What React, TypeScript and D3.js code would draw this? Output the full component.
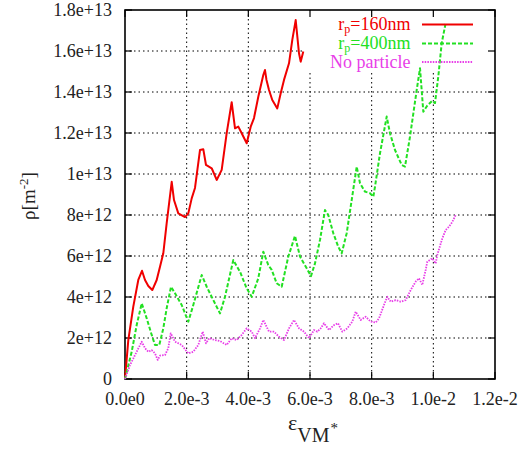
import { useRef, useEffect } from "react";
import * as d3 from "d3";

// strain in units of 1e-3, dislocation density in units of 1e12 m^-2
const r160: [number, number][] = [
  [0, 0], [0.107, 1.9], [0.269, 3.53], [0.431, 4.83], [0.551, 5.28], [0.649, 4.83],
  [0.756, 4.54], [0.885, 4.34], [1.028, 4.83], [1.135, 5.48], [1.242, 6.13], [1.352, 7.6],
  [1.515, 9.62], [1.589, 8.73], [1.729, 8.08], [1.946, 7.9], [2.053, 8.08], [2.163, 8.81],
  [2.27, 9.32], [2.432, 11.17], [2.539, 11.21], [2.627, 10.44], [2.812, 10.28], [2.974, 9.71],
  [3.136, 10.2], [3.298, 11.99], [3.46, 13.5], [3.568, 12.23], [3.675, 12.31], [3.785, 11.99],
  [3.947, 11.5], [4.077, 12.31], [4.184, 12.73], [4.323, 13.77], [4.485, 14.83], [4.54, 15.07],
  [4.589, 14.59], [4.67, 14.1], [4.777, 13.61], [4.939, 13.2], [5.05, 13.94], [5.157, 14.59],
  [5.319, 15.4], [5.426, 16.54], [5.536, 17.51], [5.643, 15.89], [5.698, 15.48], [5.783, 15.97],
];

const r400: [number, number][] = [
  [0, 0], [0.217, 1.33], [0.379, 2.63], [0.542, 3.69], [0.704, 2.96], [0.866, 2.15],
  [0.973, 1.66], [1.112, 1.66], [1.242, 2.47], [1.352, 3.45], [1.492, 4.5], [1.622, 4.18],
  [1.839, 3.61], [2.053, 2.8], [2.215, 3.61], [2.488, 5.07], [2.65, 4.5], [2.864, 3.85],
  [3.081, 3.2], [3.243, 4.01], [3.512, 5.8], [3.73, 5.23], [3.947, 4.42], [4.109, 4.01],
  [4.323, 4.91], [4.485, 6.21], [4.647, 5.56], [4.758, 5.32], [4.92, 4.67], [5.082, 4.5],
  [5.296, 5.97], [5.513, 6.98], [5.676, 5.97], [5.893, 5.4], [6.032, 5.02], [6.162, 5.64],
  [6.324, 6.78], [6.486, 8.24], [6.593, 8.0], [6.756, 7.11], [6.918, 6.45], [7.028, 6.13],
  [7.19, 7.11], [7.352, 8.73], [7.515, 10.36], [7.622, 9.55], [7.784, 9.14], [7.946, 9.06],
  [8.053, 8.89], [8.108, 9.38], [8.27, 11.01], [8.487, 12.8], [8.594, 11.99], [8.757, 11.17],
  [8.974, 10.44], [9.081, 10.36], [9.243, 11.82], [9.461, 14.1], [9.568, 15.16], [9.675, 13.04],
  [9.795, 13.32], [9.957, 13.56], [10.054, 13.46], [10.161, 14.75], [10.271, 16.38], [10.394, 17.32],
];

const noParticle: [number, number][] = [
  [0, 0], [0.162, 0.68], [0.379, 1.33], [0.542, 1.82], [0.649, 1.5], [0.756, 1.33],
  [0.866, 1.41], [0.973, 1.25], [1.061, 0.93], [1.135, 1.14], [1.297, 1.17], [1.404, 1.5],
  [1.482, 2.23], [1.622, 1.82], [1.839, 1.66], [2.053, 1.25], [2.215, 1.33], [2.377, 1.66],
  [2.52, 2.31], [2.627, 1.74], [2.734, 1.99], [2.919, 1.9], [3.081, 1.85], [3.298, 1.66],
  [3.46, 1.99], [3.623, 1.9], [3.785, 2.15], [3.947, 2.47], [4.109, 2.31], [4.216, 1.99],
  [4.378, 2.47], [4.485, 2.88], [4.67, 2.31], [4.832, 2.31], [4.995, 2.06], [5.157, 1.9],
  [5.319, 2.47], [5.481, 2.88], [5.643, 2.47], [5.805, 2.31], [5.968, 1.99], [6.13, 2.39],
  [6.237, 2.31], [6.347, 2.47], [6.454, 2.72], [6.616, 2.39], [6.778, 2.63], [6.908, 2.72],
  [7.048, 2.31], [7.21, 2.47], [7.372, 2.8], [7.482, 3.28], [7.644, 2.88], [7.806, 3.04],
  [7.968, 2.8], [8.131, 2.75], [8.238, 2.96], [8.4, 3.61], [8.507, 4.01], [8.617, 3.77],
  [8.779, 3.85], [8.941, 3.77], [9.104, 3.85], [9.266, 4.34], [9.428, 4.75], [9.535, 4.91],
  [9.642, 4.59], [9.752, 5.32], [9.804, 5.72], [9.966, 5.89], [10.077, 5.64], [10.128, 6.05],
  [10.291, 6.86], [10.401, 7.27], [10.508, 7.43], [10.615, 7.66], [10.725, 8.0],
];

const xTicks = [0, 0.002, 0.004, 0.006, 0.008, 0.01, 0.012];
const xTickLabels = ["0.0e0", "2.0e-3", "4.0e-3", "6.0e-3", "8.0e-3", "1.0e-2", "1.2e-2"];
const yTicks = [0, 2e12, 4e12, 6e12, 8e12, 1e13, 1.2e13, 1.4e13, 1.6e13, 1.8e13];
const yTickLabels = ["0", "2e+12", "4e+12", "6e+12", "8e+12", "1e+13", "1.2e+13", "1.4e+13", "1.6e+13", "1.8e+13"];

const seriesNames = ["160nm", "400nm", "No particle"];
const seriesColors = ["#f00000", "#22e022", "#e83ee8"];

const FONT = "'Liberation Serif', 'DejaVu Serif', serif";

const App = () => {
  const ref = useRef<SVGSVGElement>(null);

  useEffect(() => {
    const svg = d3.select(ref.current);
    svg.selectAll("*").remove();

    const left = 125, right = 495, top = 10, bottom = 379;
    const x = d3.scaleLinear().domain([0, 0.012]).range([left, right]);
    const y = d3.scaleLinear().domain([0, 1.8e13]).range([bottom, top]);

    // grid
    const grid = svg.append("g").attr("stroke", "#000").attr("stroke-width", 1).attr("stroke-dasharray", "1.5,3");
    xTicks.slice(1, -1).forEach((t) => {
      grid.append("line").attr("x1", x(t)).attr("x2", x(t)).attr("y1", top).attr("y2", bottom);
    });
    yTicks.slice(1, -1).forEach((t) => {
      grid.append("line").attr("x1", left).attr("x2", right).attr("y1", y(t)).attr("y2", y(t));
    });

    // legend background hides the grid
    svg.append("rect").attr("x", 305).attr("y", top + 1).attr("width", right - 306).attr("height", 61).attr("fill", "#fff");

    // ticks (inward, mirrored)
    const tl = 7;
    const ticks = svg.append("g").attr("stroke", "#000").attr("stroke-width", 1.2);
    xTicks.forEach((t) => {
      ticks.append("line").attr("x1", x(t)).attr("x2", x(t)).attr("y1", bottom).attr("y2", bottom - tl);
      ticks.append("line").attr("x1", x(t)).attr("x2", x(t)).attr("y1", top).attr("y2", top + tl);
    });
    yTicks.forEach((t) => {
      ticks.append("line").attr("x1", left).attr("x2", left + tl).attr("y1", y(t)).attr("y2", y(t));
      ticks.append("line").attr("x1", right).attr("x2", right - tl).attr("y1", y(t)).attr("y2", y(t));
    });

    svg.append("rect").attr("x", left).attr("y", top).attr("width", right - left).attr("height", bottom - top)
      .attr("fill", "none").attr("stroke", "#000").attr("stroke-width", 1.6);

    // tick labels
    svg.append("g").selectAll("text").data(xTicks).enter().append("text")
      .attr("x", (d) => x(d)).attr("y", 405).attr("text-anchor", "middle")
      .style("font-family", FONT).style("font-size", "18px").attr("fill", "#222")
      .text((d, i) => xTickLabels[i]);
    svg.append("g").selectAll("text").data(yTicks).enter().append("text")
      .attr("x", 112).attr("y", (d) => y(d) + 6).attr("text-anchor", "end")
      .style("font-family", FONT).style("font-size", "18px").attr("fill", "#222")
      .text((d, i) => yTickLabels[i]);

    // axis titles
    const yl = svg.append("text").attr("transform", "translate(35,196) rotate(-90)").attr("text-anchor", "middle")
      .style("font-family", FONT).style("font-size", "19px").attr("fill", "#222");
    yl.append("tspan").text("ρ[m");
    yl.append("tspan").attr("dy", -7).style("font-size", "13px").text("-2");
    yl.append("tspan").attr("dy", 7).text("]");

    const xl = svg.append("text").attr("x", 288).attr("y", 430)
      .style("font-family", FONT).style("font-size", "22px").attr("fill", "#222");
    xl.append("tspan").text("ε");
    xl.append("tspan").attr("dy", 12).style("font-size", "20px").text("VM");
    xl.append("tspan").attr("dx", 1).attr("dy", -9).style("font-size", "15px").text("*");

    // data lines
    const line = d3.line<[number, number]>()
      .x((d) => x(d[0] * 1e-3))
      .y((d) => y(d[1] * 1e12));
    const styles = [
      { data: r160, dash: null, width: 2 },
      { data: r400, dash: "4,2", width: 2 },
      { data: noParticle, dash: "1.5,1.2", width: 1.8 },
    ];
    styles.forEach((s, i) => {
      svg.append("path").datum(s.data).attr("d", line).attr("fill", "none")
        .attr("stroke", seriesColors[i]).attr("stroke-width", s.width)
        .attr("stroke-linejoin", "round")
        .attr("stroke-dasharray", s.dash);
    });

    // legend
    const rowY = [24.5, 43.5, 62];
    seriesNames.forEach((name, i) => {
      const t = svg.append("text").attr("x", 410.5).attr("y", rowY[i] + 5.5).attr("text-anchor", "end")
        .style("font-family", FONT).style("font-size", "18px").attr("fill", seriesColors[i]);
      if (i < 2) {
        t.append("tspan").text("r");
        t.append("tspan").attr("dy", 3).style("font-size", "12px").text("p");
        t.append("tspan").attr("dy", -3).text("=" + name);
      } else {
        t.text(name);
      }
      svg.append("line").attr("x1", 422).attr("x2", 473).attr("y1", rowY[i]).attr("y2", rowY[i])
        .attr("stroke", seriesColors[i]).attr("stroke-width", styles[i].width)
        .attr("stroke-dasharray", styles[i].dash);
    });
  }, []);

  return (
    <svg
      ref={ref}
      width={528}
      height={450}
      style={{ position: "absolute", left: 0, top: 0, background: "#fff" }}
    />
  );
};

export default App;
